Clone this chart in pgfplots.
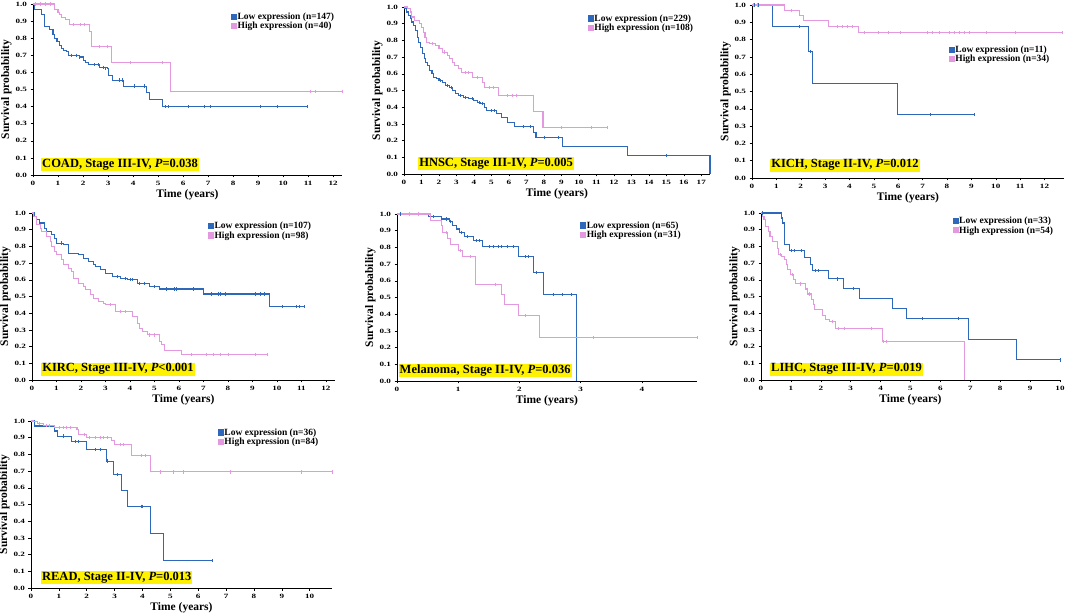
\documentclass[border=0pt]{standalone}
\usepackage{fontspec}
\setmainfont{Liberation Serif}
\newfontfamily\tickfont[FakeStretch=1.4]{Liberation Serif}
\usepackage{pgfplots}
\pgfplotsset{compat=1.18}

\definecolor{lowc}{RGB}{46,104,186}
\definecolor{highc}{RGB}{228,152,224}

\pgfplotsset{
  km/.style={
    scale only axis, clip=false,
    axis lines=left, axis line style={-, black, line width=0.7pt},
    ymin=0, ymax=1,
    ytick={0,0.1,0.2,0.3,0.4,0.5,0.6,0.7,0.8,0.9,1.0},
    yticklabel style={/pgf/number format/.cd, fixed, fixed zerofill, precision=1},
    /pgf/number format/assume math mode=true,
    tick label style={font=\tickfont\bfseries\fontsize{6.5}{7}\selectfont},
    tick align=outside, major tick length=2.5pt,
    tick style={black, line width=0.5pt},
    xlabel={Time (years)}, ylabel={Survival probability},
    label style={font=\bfseries\fontsize{11.5}{12}\selectfont},
    xlabel style={yshift=3pt}, ylabel style={yshift=-3pt},
    legend cell align=left,
    legend image code/.code={\fill[##1] (0pt,-2.5pt) rectangle (5pt,2.5pt);},
    legend style={draw=none, fill=none, inner sep=0pt, row sep=0pt,
      anchor=north west,
      nodes={inner sep=0.6pt, font=\bfseries\fontsize{9.5}{10}\selectfont}},
  },
  lo/.style={lowc, line width=1.05pt, const plot, mark=none},
  hi/.style={highc, line width=1.05pt, const plot, mark=none},
  locen/.style={lowc, only marks, mark=|, mark size=1.6pt, mark options={line width=0.6pt}, forget plot},
  hicen/.style={highc, only marks, mark=|, mark size=1.6pt, mark options={line width=0.6pt}, forget plot},
}
\tikzset{tag/.style={fill=yellow, inner sep=1pt, anchor=south west,
    font=\bfseries\fontsize{12.5}{13}\selectfont}}

\begin{document}
\begin{tikzpicture}
\useasboundingbox (0,0) rectangle (1065pt,613pt);

% ---------- COAD ----------
\begin{axis}[km, at={(33pt,438pt)}, anchor=south west, width=309pt, height=171pt,
  xmin=0, xmax=12.35, xtick={0,...,12}, legend style={at={(0.64,0.955)}}]
\addplot[lo] coordinates {(0,1) (0.07,0.97) (0.33,0.94) (0.47,0.87) (0.67,0.85) (0.8,0.82)
  (0.87,0.80) (0.96,0.78) (1.07,0.76) (1.13,0.74) (1.23,0.73) (1.33,0.72) (1.4,0.70)
  (1.87,0.69) (2.0,0.67) (2.1,0.66) (2.2,0.645) (2.67,0.63) (2.97,0.62) (3.0,0.58)
  (3.16,0.555) (3.63,0.52) (4.53,0.48) (4.67,0.44) (5.16,0.40) (10.95,0.40)};
\addlegendentry{Low expression (n=147)}
\addplot[hi] coordinates {(0,1) (0.87,0.97) (1.0,0.95) (1.05,0.94) (1.15,0.92) (1.3,0.91)
  (1.45,0.88) (2.25,0.84) (2.35,0.75) (3.15,0.66) (5.5,0.49) (12.35,0.49)};
\addlegendentry{High expression (n=40)}
\addplot[locen] coordinates {(1.55,0.70) (1.75,0.70) (1.85,0.69) (2.45,0.645) (2.6,0.645)
  (2.8,0.63) (2.9,0.625) (3.45,0.555) (3.55,0.555) (4.05,0.52) (4.45,0.52) (5.3,0.40)
  (5.4,0.40) (6.2,0.40) (6.85,0.40) (7.1,0.40) (9.1,0.40) (9.75,0.40) (10.95,0.40)};
\addplot[hicen] coordinates {(0.1,1) (0.3,1) (0.5,1) (0.7,1) (1.6,0.88) (1.9,0.88)
  (2.05,0.88) (2.65,0.75) (2.95,0.75) (3.9,0.66) (5.15,0.66) (11.1,0.49) (11.3,0.49) (12.35,0.49)};
\node[tag] at (rel axis cs:0.026,0.02) {COAD, Stage III-IV, \textit{P}=0.038};
\end{axis}

% ---------- HNSC ----------
\begin{axis}[km, at={(404pt,439pt)}, anchor=south west, width=306pt, height=167pt,
  xmin=0, xmax=17.5, xtick={0,...,17}, legend style={at={(0.6,0.96)}}]
\addplot[lo] coordinates {(0,1) (0.05,0.99) (0.15,0.97) (0.25,0.95) (0.35,0.93) (0.45,0.91)
  (0.55,0.89) (0.65,0.86) (0.75,0.82) (0.85,0.79) (0.95,0.76) (1.05,0.72) (1.15,0.69)
  (1.25,0.67) (1.35,0.65) (1.45,0.62) (1.6,0.60) (1.7,0.58) (1.85,0.57) (2.0,0.56)
  (2.2,0.55) (2.4,0.53) (2.6,0.52) (2.8,0.50) (2.95,0.48) (3.1,0.47) (3.4,0.46)
  (3.7,0.45) (4.0,0.44) (4.2,0.43) (4.4,0.42) (4.6,0.40) (4.7,0.38) (5.3,0.36)
  (5.6,0.34) (5.9,0.31) (6.3,0.285) (7.4,0.25) (7.55,0.22) (9.05,0.165) (12.8,0.11) (17.5,0)};
\addlegendentry{Low expression (n=229)}
\addplot[hi] coordinates {(0,1) (0.2,0.99) (0.35,0.97) (0.45,0.94) (0.6,0.92) (0.9,0.90)
  (1.0,0.88) (1.1,0.85) (1.2,0.82) (1.3,0.79) (1.45,0.78) (1.8,0.77) (2.0,0.75)
  (2.2,0.73) (2.5,0.71) (2.6,0.69) (2.8,0.67) (2.9,0.65) (3.1,0.63) (3.3,0.61)
  (3.9,0.58) (4.5,0.55) (4.6,0.52) (5.4,0.47) (7.4,0.375) (7.95,0.28) (11.6,0.28)};
\addlegendentry{High expression (n=108)}
\addplot[locen] coordinates {(2.1,0.56) (2.5,0.53) (2.7,0.52) (3.2,0.47) (3.5,0.46)
  (3.9,0.45) (4.3,0.43) (4.5,0.42) (5.0,0.38) (5.15,0.38) (6.8,0.285) (7.2,0.285)
  (8.0,0.22) (8.8,0.22) (15.0,0.11)};
\addplot[hicen] coordinates {(1.6,0.78) (2.3,0.73) (3.5,0.61) (3.7,0.61) (4.2,0.58)
  (4.9,0.52) (5.1,0.52) (5.9,0.47) (6.2,0.47) (6.4,0.47) (9.0,0.28) (10.7,0.28) (11.6,0.28)};
\node[tag] at (rel axis cs:0.046,0.02) {HNSC, Stage III-IV, \textit{P}=0.005};
\end{axis}

% ---------- KICH ----------
\begin{axis}[km, at={(752pt,435pt)}, anchor=south west, width=312pt, height=173pt,
  xmin=0, xmax=12.8, xtick={0,...,12}, legend style={at={(0.63,0.77)}}]
\addplot[lo] coordinates {(0,1) (0.86,0.876) (2.3,0.73) (2.5,0.547) (5.95,0.365) (9.1,0.365)};
\addlegendentry{Low expression (n=11)}
\addplot[hi] coordinates {(0,1) (1.35,0.97) (1.95,0.94) (2.1,0.91) (3.15,0.876) (4.35,0.84) (12.75,0.84)};
\addlegendentry{High expression (n=34)}
\addplot[locen] coordinates {(0.1,1) (0.25,1) (1.95,0.876) (2.4,0.73) (7.3,0.365) (9.1,0.365)};
\addplot[hicen] coordinates {(0.05,1) (0.2,1) (1.6,0.97) (3.5,0.876) (3.7,0.876) (3.9,0.876)
  (4.1,0.876) (4.6,0.84) (5.2,0.84) (5.6,0.84) (6.1,0.84) (7.2,0.84) (7.4,0.84) (7.7,0.84)
  (8.1,0.84) (8.3,0.84) (8.5,0.84) (8.7,0.84) (8.9,0.84) (9.6,0.84) (10.8,0.84) (12.75,0.84)};
\node[tag] at (rel axis cs:0.058,0.035) {KICH, Stage II-IV, \textit{P}=0.012};
\end{axis}

% ---------- KIRC ----------
\begin{axis}[km, at={(32pt,233pt)}, anchor=south west, width=303pt, height=167pt,
  xmin=0, xmax=12.37, xtick={0,...,12}, legend style={at={(0.58,0.95)}}]
\addplot[lo] coordinates {(0,1) (0.1,0.98) (0.2,0.96) (0.3,0.94) (0.5,0.91) (0.6,0.89)
  (0.8,0.87) (0.9,0.85) (1.0,0.82) (1.3,0.81) (1.5,0.76) (1.9,0.75) (2.1,0.73) (2.3,0.71)
  (2.5,0.69) (2.6,0.68) (2.8,0.66) (3.0,0.64) (3.3,0.62) (3.6,0.61) (3.9,0.60) (4.3,0.58)
  (4.8,0.56) (5.2,0.545) (7.0,0.515) (9.7,0.44) (11.1,0.44)};
\addlegendentry{Low expression (n=107)}
\addplot[hi] coordinates {(0,1) (0.05,0.98) (0.2,0.93) (0.35,0.91) (0.4,0.89) (0.6,0.86)
  (0.75,0.83) (0.8,0.80) (0.9,0.77) (1.0,0.75) (1.2,0.72) (1.3,0.69) (1.5,0.67) (1.6,0.65)
  (1.7,0.61) (1.9,0.58) (2.1,0.56) (2.2,0.54) (2.4,0.51) (2.5,0.49) (2.7,0.47) (2.9,0.46)
  (3.0,0.45) (3.4,0.41) (4.1,0.38) (4.3,0.34) (4.4,0.31) (4.5,0.29) (4.7,0.27) (5.2,0.23)
  (5.3,0.21) (5.4,0.175) (6.1,0.155) (9.6,0.155)};
\addlegendentry{High expression (n=98)}
\addplot[locen] coordinates {(1.2,0.82) (3.5,0.62) (3.8,0.61) (4.0,0.60) (4.1,0.60)
  (4.4,0.58) (4.6,0.58) (5.0,0.56) (5.5,0.545) (5.8,0.545) (5.9,0.545) (6.6,0.545)
  (7.3,0.515) (7.6,0.515) (7.7,0.515) (7.9,0.515) (9.1,0.515) (9.3,0.515) (9.5,0.515)
  (10.2,0.44) (10.8,0.44) (10.9,0.44) (11.1,0.44)};
\addplot[hicen] coordinates {(3.2,0.45) (3.6,0.41) (3.8,0.41) (4.8,0.27) (5.0,0.27)
  (6.5,0.155) (7.1,0.155) (7.4,0.155) (7.7,0.155) (8.0,0.155) (9.1,0.155) (9.6,0.155)};
\node[tag] at (rel axis cs:0.03,0.025) {KIRC, Stage III-IV, \textit{P}{\textless}0.001};
\end{axis}

% ---------- Melanoma ----------
\begin{axis}[km, at={(397pt,232pt)}, anchor=south west, width=300pt, height=167pt,
  xmin=0, xmax=4.9, xtick={0,...,4}, legend style={at={(0.61,0.96)}}]
\addplot[lo] coordinates {(0,1) (0.52,0.985) (0.72,0.97) (0.85,0.955) (0.9,0.93) (0.97,0.91)
  (1.02,0.89) (1.1,0.865) (1.25,0.84) (1.4,0.805) (1.98,0.745) (2.23,0.65) (2.4,0.52) (2.93,0)};
\addlegendentry{Low expression (n=65)}
\addplot[hi] coordinates {(0,1) (0.55,0.96) (0.72,0.93) (0.75,0.89) (0.82,0.855) (0.87,0.82)
  (1.0,0.78) (1.07,0.745) (1.28,0.58) (1.7,0.52) (1.75,0.46) (1.98,0.39) (2.33,0.26) (4.9,0.26)};
\addlegendentry{High expression (n=31)}
\addplot[locen] coordinates {(0.05,1) (0.2,1) (0.35,1) (0.6,0.985) (0.8,0.97) (0.87,0.955)
  (1.05,0.89) (1.15,0.865) (1.3,0.84) (1.35,0.84) (1.5,0.805) (1.58,0.805) (1.65,0.805)
  (1.7,0.805) (1.8,0.805) (1.9,0.805) (2.1,0.745) (2.15,0.745) (2.28,0.65) (2.55,0.52)
  (2.7,0.52) (2.85,0.52)};
\addplot[hicen] coordinates {(0.2,1) (0.35,1) (0.8,0.89) (1.03,0.78) (1.2,0.745) (1.6,0.58)
  (2.1,0.39) (3.2,0.26) (4.9,0.26)};
\node[tag] at (rel axis cs:0.005,0.02) {Melanoma, Stage II-IV, \textit{P}=0.036};
\end{axis}

% ---------- LIHC ----------
\begin{axis}[km, at={(761pt,233pt)}, anchor=south west, width=299pt, height=167pt,
  xmin=0, xmax=10, xtick={0,...,10}, legend style={at={(0.64,0.98)}}]
\addplot[lo] coordinates {(0,1) (0.68,0.97) (0.72,0.94) (0.8,0.81) (0.95,0.775) (1.45,0.735)
  (1.65,0.69) (1.72,0.655) (2.25,0.605) (2.75,0.55) (3.3,0.49) (4.4,0.43) (4.85,0.37)
  (6.95,0.245) (8.55,0.12) (10,0.12)};
\addlegendentry{Low expression (n=33)}
\addplot[hi] coordinates {(0,1) (0.05,0.98) (0.1,0.96) (0.15,0.92) (0.25,0.89) (0.3,0.86)
  (0.4,0.83) (0.55,0.79) (0.6,0.75) (0.7,0.74) (0.8,0.72) (0.85,0.69) (0.9,0.66) (1.0,0.63)
  (1.1,0.60) (1.15,0.575) (1.5,0.545) (1.55,0.515) (1.7,0.48) (1.75,0.45) (1.8,0.42)
  (2.05,0.385) (2.15,0.36) (2.3,0.35) (2.5,0.31) (4.05,0.23) (6.8,0)};
\addlegendentry{High expression (n=54)}
\addplot[locen] coordinates {(0.05,1) (1.0,0.775) (1.1,0.775) (1.35,0.775) (1.8,0.655)
  (1.9,0.655) (2.55,0.605) (3.1,0.55) (5.4,0.37) (6.6,0.37) (10,0.12)};
\addplot[hicen] coordinates {(0.65,0.75) (1.05,0.63) (1.3,0.575) (1.6,0.515) (2.4,0.35)
  (2.6,0.31) (2.8,0.31) (3.7,0.31) (4.1,0.23) (4.2,0.23)};
\node[tag] at (rel axis cs:0.03,0.025) {LIHC, Stage III-IV, \textit{P}=0.019};
\end{axis}

% ---------- READ ----------
\begin{axis}[km, at={(31pt,25pt)}, anchor=south west, width=301pt, height=167pt,
  xmin=0, xmax=10.8, xtick={0,...,10}, legend style={at={(0.62,0.96)}}]
\addplot[lo] coordinates {(0,1) (0.12,0.97) (0.85,0.94) (0.95,0.91) (1.45,0.875) (2.0,0.83)
  (2.7,0.76) (2.95,0.68) (3.25,0.585) (3.45,0.49) (4.3,0.325) (4.75,0.165) (6.5,0.165)};
\addlegendentry{Low expression (n=36)}
\addplot[hi] coordinates {(0,1) (0.1,0.995) (0.25,0.985) (0.45,0.975) (0.85,0.96) (1.65,0.95)
  (1.7,0.92) (2.0,0.90) (2.9,0.885) (3.0,0.86) (3.6,0.795) (4.3,0.695) (10.8,0.695)};
\addlegendentry{High expression (n=84)}
\addplot[locen] coordinates {(1.15,0.91) (1.6,0.875) (1.7,0.875) (2.3,0.83) (2.5,0.83)
  (2.75,0.76) (3.1,0.68) (3.95,0.49) (4.0,0.49) (6.5,0.165)};
\addplot[hicen] coordinates {(0.3,0.985) (0.55,0.975) (0.65,0.975) (1.0,0.96) (1.15,0.96)
  (1.25,0.96) (1.4,0.96) (1.9,0.92) (2.1,0.90) (2.3,0.90) (2.5,0.90) (2.6,0.90) (2.75,0.90)
  (3.2,0.86) (3.3,0.86) (3.95,0.795) (4.1,0.795) (4.65,0.695) (5.1,0.695) (5.45,0.695)
  (7.15,0.695) (9.7,0.695) (10.8,0.695)};
\node[tag] at (rel axis cs:0.033,0.02) {READ, Stage II-IV, \textit{P}=0.013};
\end{axis}
\end{tikzpicture}
\end{document}
